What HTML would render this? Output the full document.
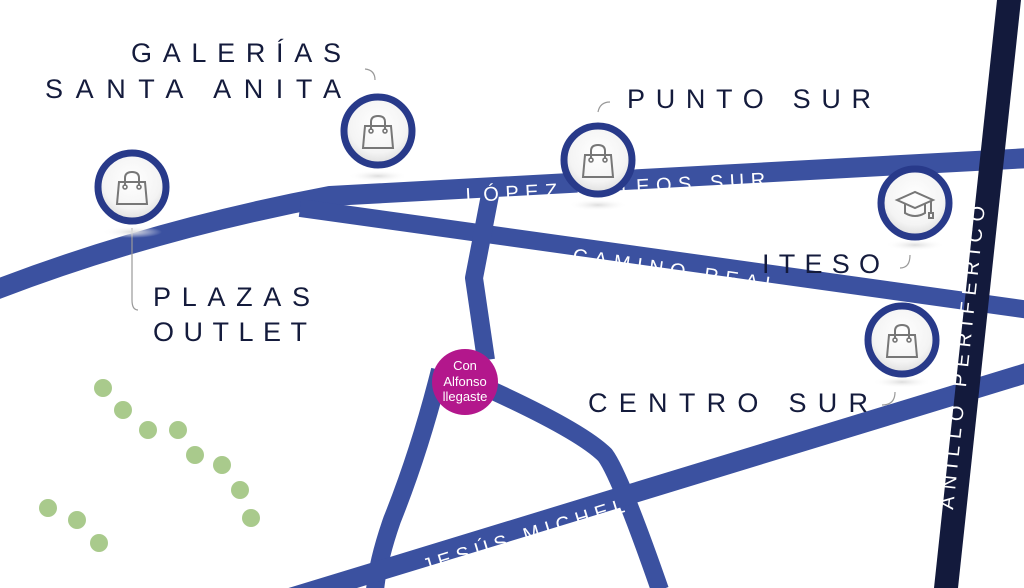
<!DOCTYPE html>
<html><head><meta charset="utf-8"><style>
html,body{margin:0;padding:0;background:#fff;}
svg{display:block;}
.lab{font-family:"Liberation Sans",sans-serif;font-size:27px;fill:#141b3c;}
.rd{font-family:"Liberation Sans",sans-serif;font-size:20px;fill:#fff;}
</style></head><body>
<svg width="1024" height="588" viewBox="0 0 1024 588" xmlns="http://www.w3.org/2000/svg">
<defs>
<radialGradient id="g" cx="50%" cy="40%" r="60%"><stop offset="0" stop-color="#fff"/><stop offset="0.7" stop-color="#f4f4f4"/><stop offset="1" stop-color="#dcdcdc"/></radialGradient>
<radialGradient id="sh" cx="50%" cy="50%" r="50%"><stop offset="0" stop-color="#ddd"/><stop offset="1" stop-color="#fff" stop-opacity="0"/></radialGradient>
<g id="bag"><path d="M-13,-8 L13,-8 L15,14 L-15,14 Z" fill="none" stroke="#777" stroke-width="2"/><path d="M-7,-4 L-7,-12 Q-7,-18 0,-18 Q7,-18 7,-12 L7,-4" fill="none" stroke="#777" stroke-width="2"/><circle cx="-7" cy="-3" r="2" fill="none" stroke="#777" stroke-width="1.6"/><circle cx="7" cy="-3" r="2" fill="none" stroke="#777" stroke-width="1.6"/></g>
</defs>
<g fill="none" stroke="#3b51a0" stroke-linejoin="round">
<path d="M-10,292 Q150,230 330,196 L1030,158" stroke-width="20"/>
<path d="M300,208 L1030,310" stroke-width="18"/>
<path d="M490,195 L474,278 L486,360" stroke-width="18"/>
<path d="M440,370 Q420,450 392,520 Q378,560 375,590" stroke-width="18"/>
<path d="M480,385 Q580,430 605,455 Q620,475 660,590" stroke-width="18"/>
<path d="M290,598 L1030,372" stroke-width="20"/>
</g>
<path d="M997,0 L1021,0 L958,588 L934,588 Z" fill="#131a3c"/>
<g fill="none" stroke="#999" stroke-width="1.2">
<path d="M132,228 L132,300 Q132,310 138,310"/>
<path d="M365,69 Q375,70 375,80"/>
<path d="M610,102 Q600,102 598,112"/>
<path d="M900,268 Q910,268 910,255"/>
<path d="M882,405 Q895,405 895,392"/>
</g>
<text class="rd" transform="translate(466,202) rotate(-3)" textLength="300" lengthAdjust="spacing">LÓPEZ MATEOS SUR</text>
<text class="rd" transform="translate(572,262) rotate(8.3)" textLength="205" lengthAdjust="spacing">CAMINO REAL</text>
<text class="rd" transform="translate(425,573) rotate(-17)" textLength="210" lengthAdjust="spacing">JESÚS MICHEL</text>
<text class="rd" transform="translate(953,510) rotate(-84)" textLength="305" lengthAdjust="spacing">ANILLO PERIFÉRICO</text>
<g>
<ellipse cx="132" cy="232" rx="30" ry="6" fill="url(#sh)"/>
<ellipse cx="378" cy="176" rx="30" ry="6" fill="url(#sh)"/>
<ellipse cx="598" cy="205" rx="30" ry="6" fill="url(#sh)"/>
<ellipse cx="915" cy="245" rx="30" ry="6" fill="url(#sh)"/>
<ellipse cx="902" cy="382" rx="30" ry="6" fill="url(#sh)"/>
</g>
<g stroke="#283a8a" stroke-width="7" fill="url(#g)">
<circle cx="132" cy="187" r="34"/>
<circle cx="378" cy="131" r="34"/>
<circle cx="598" cy="160" r="34"/>
<circle cx="915" cy="203" r="34"/>
<circle cx="902" cy="340" r="34"/>
</g>
<use href="#bag" x="132" y="190"/>
<use href="#bag" x="378" y="134"/>
<use href="#bag" x="598" y="163"/>
<use href="#bag" x="902" y="343"/>
<g fill="none" stroke="#777" stroke-width="2"><path d="M897,200 L915,192 L933,200 L915,208 Z"/><path d="M905,204 L905,213 Q915,219 925,213 L925,204"/><path d="M931,201 L931,213"/><rect x="929" y="213" width="4" height="5"/></g>
<circle cx="465" cy="382" r="33" fill="#b3178c"/>
<g font-family="Liberation Sans,sans-serif" font-size="13" fill="#fff" text-anchor="middle"><text x="465" y="370">Con</text><text x="465" y="386">Alfonso</text><text x="465" y="401">llegaste</text></g>
<g fill="#a9ca8c">
<circle cx="103" cy="388" r="9"/><circle cx="123" cy="410" r="9"/><circle cx="148" cy="430" r="9"/><circle cx="178" cy="430" r="9"/><circle cx="195" cy="455" r="9"/><circle cx="222" cy="465" r="9"/><circle cx="240" cy="490" r="9"/><circle cx="251" cy="518" r="9"/><circle cx="48" cy="508" r="9"/><circle cx="77" cy="520" r="9"/><circle cx="99" cy="543" r="9"/>
</g>
<text class="lab" x="131" y="62" textLength="210" lengthAdjust="spacing">GALERÍAS</text>
<text class="lab" x="45" y="98" textLength="296" lengthAdjust="spacing">SANTA ANITA</text>
<text class="lab" x="627" y="108" textLength="244" lengthAdjust="spacing">PUNTO SUR</text>
<text class="lab" x="762" y="273" textLength="118" lengthAdjust="spacing">ITESO</text>
<text class="lab" x="153" y="306" textLength="157" lengthAdjust="spacing">PLAZAS</text>
<text class="lab" x="153" y="341" textLength="154" lengthAdjust="spacing">OUTLET</text>
<text class="lab" x="588" y="412" textLength="280" lengthAdjust="spacing">CENTRO SUR</text>
</svg>
</body></html>
